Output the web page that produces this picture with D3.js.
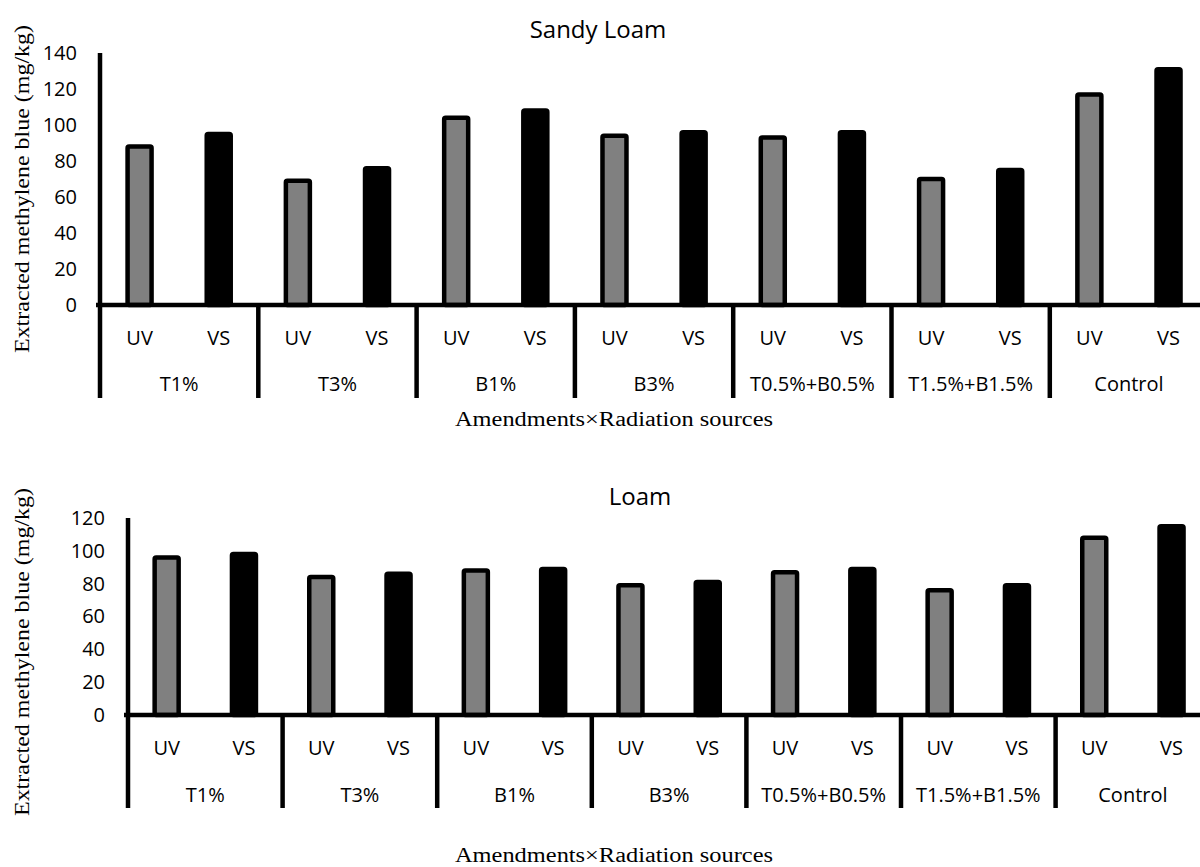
<!DOCTYPE html>
<html>
<head>
<meta charset="utf-8">
<script src="https://cdn.jsdelivr.net/npm/d3@7"></script>
<style>
  html, body { margin: 0; padding: 0; background: #fff; }
  svg { display: block; }
  .sans { font-family: "Open Sans", "Noto Sans", sans-serif; fill: #000; }
  .serif { font-family: "Liberation Serif", "Times New Roman", serif; fill: #000; }
</style>
</head>
<body>
<svg id="chart" width="1200" height="867"></svg>
<script>
// Amendment treatments (outer category level) and radiation sources (inner level)
const categories = ["T1%", "T3%", "B1%", "B3%", "T0.5%+B0.5%", "T1.5%+B1.5%", "Control"];
const sources = ["UV", "VS"];

// Extracted methylene blue (mg/kg) — Sandy Loam
const sandyUV = [88, 69, 104, 94, 93, 70, 117];
const sandyVS = [95, 76, 108, 96, 96, 75, 131];

// Extracted methylene blue (mg/kg) — Loam
const loamUV = [96, 84, 88, 79, 87, 76, 108];
const loamVS = [98, 86, 89, 81, 89, 79, 115];

// Y-axis tick values for each panel
const sandyTicks = [0, 20, 40, 60, 80, 100, 120, 140];
const loamTicks = [0, 20, 40, 60, 80, 100, 120];

const yTitle = "Extracted methylene blue (mg/kg)";
const xTitle = "Amendments\u00D7Radiation sources";

const svg = d3.select("#chart");
const fills = { UV: "#808080", VS: "#000000" };

function drawPanel(p) {
  const g = svg.append("g");

  const x0 = d3.scaleBand().domain(categories).range([p.left, p.left + p.groupW * categories.length]);
  const x1 = d3.scaleBand().domain(sources).range([0, x0.bandwidth()]);
  const y = d3.scaleLinear().domain([0, p.max]).range([p.zeroY, p.topY]);

  const rows = categories.map((c, i) => ({ cat: c, UV: p.uv[i], VS: p.vs[i] }));

  // Title
  g.append("text").attr("class", "sans")
    .attr("x", p.titleX).attr("y", p.titleY)
    .attr("text-anchor", "middle").attr("dominant-baseline", "central")
    .style("font-size", "24px").text(p.title);

  // Y tick labels via d3 axis
  const yAxis = d3.axisLeft(y).tickValues(p.ticks).tickSize(0).tickPadding(23).tickFormat(d3.format("d"));
  const ya = g.append("g").attr("transform", `translate(${p.left},0)`).call(yAxis)
    .attr("font-size", 20)
    .attr("font-family", "'Open Sans', 'Noto Sans', sans-serif");
  ya.select(".domain").remove();
  ya.selectAll("text").attr("fill", "#000").style("font-size", "20px");

  // Bars
  const bw = 24;
  const grp = g.selectAll("g.grp").data(rows).join("g").attr("class", "grp")
    .attr("transform", d => `translate(${x0(d.cat)},0)`);
  grp.selectAll("rect").data(d => sources.map(s => ({ s, v: d[s] }))).join("rect")
    .attr("x", d => x1(d.s) + x1.bandwidth() / 2 - bw / 2)
    .attr("width", bw)
    .attr("y", d => y(d.v))
    .attr("height", d => y(0) - y(d.v))
    .attr("rx", 1.5)
    .attr("fill", d => fills[d.s])
    .attr("stroke", "#000")
    .attr("stroke-width", 4.5);

  // Y axis line
  g.append("line").attr("x1", p.left).attr("x2", p.left)
    .attr("y1", y(p.max)).attr("y2", p.sepBottom)
    .attr("stroke", "#000").attr("stroke-width", 4.5);

  // X axis line
  g.append("line").attr("x1", p.left - 4).attr("x2", x0.range()[1])
    .attr("y1", y(0)).attr("y2", y(0))
    .attr("stroke", "#000").attr("stroke-width", 4.5);

  // Group separators
  g.selectAll("line.sep").data(categories.slice(1)).join("line").attr("class", "sep")
    .attr("x1", d => x0(d)).attr("x2", d => x0(d))
    .attr("y1", y(0)).attr("y2", p.sepBottom)
    .attr("stroke", "#000").attr("stroke-width", 4.5);

  // Inner labels (UV / VS)
  grp.selectAll("text.src").data(sources).join("text").attr("class", "sans src")
    .attr("x", s => x1(s) + x1.bandwidth() / 2)
    .attr("y", p.srcY)
    .attr("text-anchor", "middle").attr("dominant-baseline", "central")
    .style("font-size", "20px").text(s => s);

  // Outer labels (amendments)
  grp.append("text").attr("class", "sans")
    .attr("x", x0.bandwidth() / 2).attr("y", p.catY)
    .attr("text-anchor", "middle").attr("dominant-baseline", "central")
    .style("font-size", "20px").text(d => d.cat);

  // Axis titles
  g.append("text").attr("class", "serif")
    .attr("transform", `translate(${p.yTitleX},${p.yTitleY}) rotate(-90)`)
    .attr("text-anchor", "middle").attr("dominant-baseline", "central")
    .attr("textLength", 328).attr("lengthAdjust", "spacingAndGlyphs")
    .style("font-size", "21px").text(yTitle);

  g.append("text").attr("class", "serif")
    .attr("x", p.xTitleX).attr("y", p.xTitleY)
    .attr("text-anchor", "middle").attr("dominant-baseline", "central")
    .attr("textLength", 318).attr("lengthAdjust", "spacingAndGlyphs")
    .style("font-size", "20px").text(xTitle);
}

drawPanel({
  title: "Sandy Loam", titleX: 598, titleY: 28,
  uv: sandyUV, vs: sandyVS, ticks: sandyTicks, max: 140,
  left: 100, groupW: 158.3, zeroY: 305, topY: 53, sepBottom: 398,
  srcY: 337, catY: 383,
  yTitleX: 22, yTitleY: 189, xTitleX: 614, xTitleY: 419
});

drawPanel({
  title: "Loam", titleX: 640, titleY: 495,
  uv: loamUV, vs: loamVS, ticks: loamTicks, max: 120,
  left: 128, groupW: 154.6, zeroY: 715, topY: 518, sepBottom: 808,
  srcY: 747, catY: 794,
  yTitleX: 22, yTitleY: 652, xTitleX: 614, xTitleY: 855
});
</script>
</body>
</html>
